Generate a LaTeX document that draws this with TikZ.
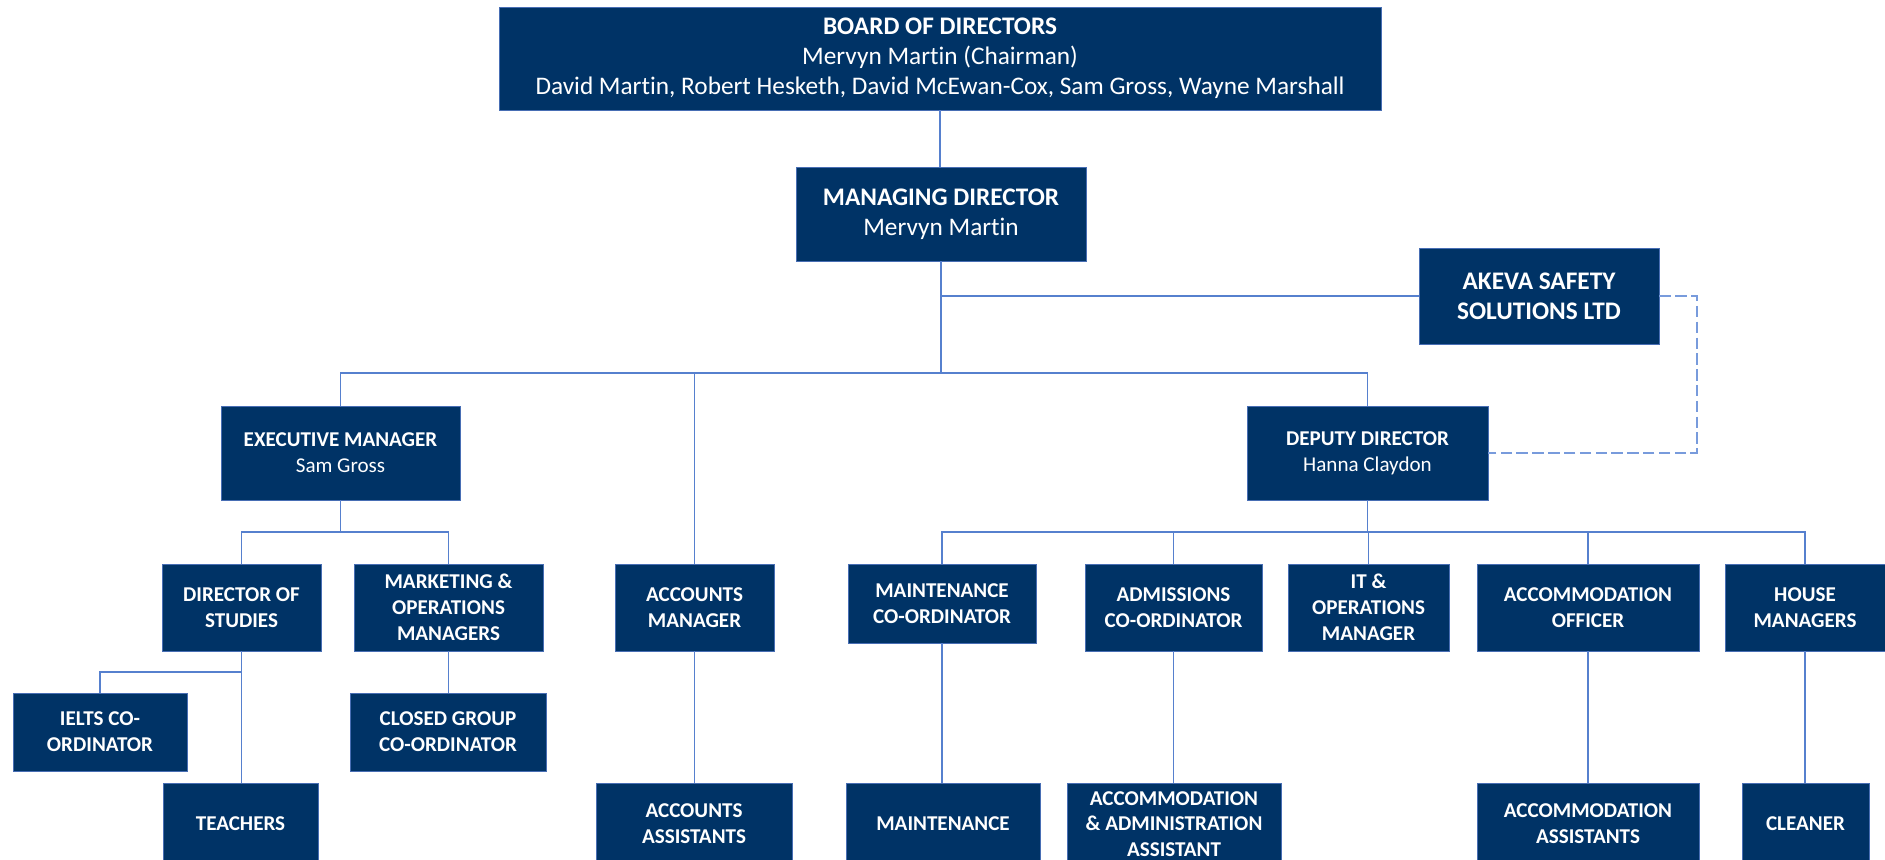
\documentclass[tikz,border=0pt]{standalone}
\usepackage{fontspec}
\setmainfont{Carlito}[Ligatures=NoCommon]
\definecolor{navy}{RGB}{0,51,102}
\definecolor{boxedge}{RGB}{72,110,180}
\definecolor{linkblue}{RGB}{86,128,206}
\definecolor{dashblue}{RGB}{120,155,220}
\tikzset{post/.style={draw=boxedge, line width=0.5pt, fill=navy, text=white, align=center, inner sep=0pt, font=\fontsize{12}{14.7}\selectfont\bfseries}}
\tikzset{bigpost/.style={post, font=\fontsize{14.4}{17}\selectfont\bfseries}}
\tikzset{link/.style={draw=linkblue, line width=0.85pt}}
\tikzset{duty/.style={draw=dashblue, line width=1.1pt, dash pattern=on 6.5pt off 2.5pt}}

\begin{document}
\begin{tikzpicture}[x=0.02cm,y=-0.02cm]
  \useasboundingbox (0,0) rectangle (1885,859);
  \clip (0,0) rectangle (1885,859);
  % top of the chart
  \node[bigpost, minimum width=882*0.02cm, minimum height=103*0.02cm] (board) at (940,58.5)
    {BOARD OF DIRECTORS\\{\mdseries Mervyn Martin (Chairman)}\\{\mdseries David Martin, Robert Hesketh, David McEwan-Cox, Sam Gross, Wayne Marshall}};
  \node[bigpost, minimum width=290*0.02cm, minimum height=94*0.02cm] (md) at (941,214)
    {MANAGING DIRECTOR\\{\mdseries Mervyn Martin}};
  \node[bigpost, minimum width=240*0.02cm, minimum height=96*0.02cm] (akeva) at (1539,296)
    {AKEVA SAFETY\\SOLUTIONS LTD};
  % the other posts
  \foreach \x/\y/\w/\h/\lab/\txt in {
    340.5/453/239/94/exec/{EXECUTIVE MANAGER\\{\mdseries Sam Gross}},
    1367.5/453/241/94/deputy/{DEPUTY DIRECTOR\\{\mdseries Hanna Claydon}},
    241.5/607.5/159/87/dos/{DIRECTOR OF\\STUDIES},
    448.5/607.5/189/87/mkt/{MARKETING \&\\OPERATIONS\\MANAGERS},
    694.5/607.5/159/87/accmgr/{ACCOUNTS\\MANAGER},
    942/603.5/188/79/maintco/{MAINTENANCE\\CO-ORDINATOR},
    1173.5/607.5/177/87/adm/{ADMISSIONS\\CO-ORDINATOR},
    1368.5/607.5/161/87/it/{IT \&\\OPERATIONS\\MANAGER},
    1588/607.5/222/87/accoff/{ACCOMMODATION\\OFFICER},
    1805/607.5/160/87/house/{HOUSE\\MANAGERS},
    100/732/174/78/ielts/{IELTS CO-\\ORDINATOR},
    448/732/196/78/closed/{CLOSED GROUP\\CO-ORDINATOR},
    240.5/824/155/82/teach/{TEACHERS},
    694/824/196/82/accasst/{ACCOUNTS\\ASSISTANTS},
    943/824/194/82/maint/{MAINTENANCE},
    1174/824/214/82/aaa/{ACCOMMODATION\\\& ADMINISTRATION\\ASSISTANT},
    1588/824/222/82/accomasst/{ACCOMMODATION\\ASSISTANTS},
    1805.5/824/127/82/cleaner/{CLEANER}%
  } {
    \node[post, minimum width=\w*0.02cm, minimum height=\h*0.02cm] (\lab) at (\x,\y) {\txt};
  }
  % bus levels
  \coordinate (busA) at (0,373);
  \coordinate (busB) at (0,532);
  \coordinate (busC) at (0,672);
  \coordinate (dashturn) at (1697,380);
  \draw[link] (board.south) -- (board.south |- md.north);
  \draw[link] (md.south) -- (md |- busA);
  \draw[link] (md |- akeva.west) -- (akeva.west);
  \draw[link] (exec.north) |- (deputy |- busA) -- (deputy.north);
  \draw[link] (accmgr.north) -- (accmgr |- busA);
  \draw[duty] (akeva.east) -| (dashturn) |- (deputy.east);
  \draw[link] (exec.south) -- (exec |- busB);
  \draw[link] (dos.north) |- (mkt |- busB) -- (mkt.north);
  \draw[link] (deputy.south) -- (deputy |- busB);
  \draw[link] (maintco.north) |- (house |- busB) -- (house.north);
  \foreach \c in {adm,it,accoff} {
    \draw[link] (\c.north) -- (\c |- busB);
  }
  \foreach \u/\v in {dos/teach,mkt/closed,accmgr/accasst,maintco/maint,adm/aaa,accoff/accomasst,house/cleaner} {
    \draw[link] (\u.south) -- (\u.south |- \v.north);
  }
  \draw[link] (dos |- busC) -| (ielts.north);
\end{tikzpicture}
\end{document}
